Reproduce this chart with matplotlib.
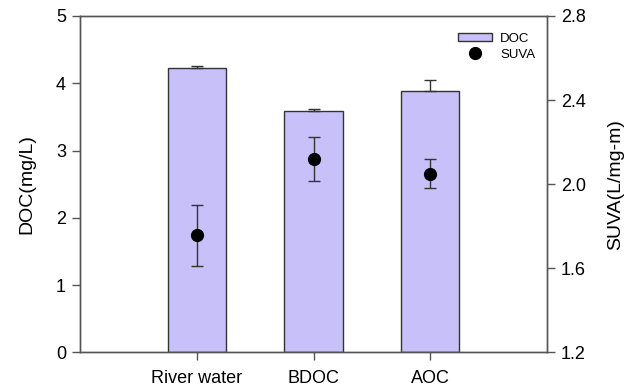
import matplotlib
matplotlib.use("Agg")
import matplotlib.pyplot as plt
from matplotlib.lines import Line2D

categories = ["River water", "BDOC", "AOC"]
doc_values = [4.23, 3.59, 3.885]
doc_errors = [0.03, 0.02, 0.165]
suva_values = [1.757, 2.12, 2.05]
suva_errors = [0.145, 0.103, 0.07]

plt.rcParams['font.family'] = ['Liberation Sans', 'DejaVu Sans']

fig = plt.figure(figsize=(6.31, 3.86), dpi=100)
ax = fig.add_axes([80/631, 1-352.3/386, (547-80)/631, (352.3-16)/386])
ax2 = ax.twinx()

pos = [1, 2, 3]
spine_c = '#555555'
ax.bar(pos, doc_values, width=0.5, color='#c8c0f8', edgecolor='#333333',
       linewidth=1.0, label='DOC', zorder=2)
ax.errorbar(pos, doc_values, yerr=[[0]*3, doc_errors], fmt='none', ecolor='#333333',
            elinewidth=1.0, capsize=4, capthick=1.0, zorder=3)
ax.set_xlim(0, 4)
ax.set_ylim(0, 5)
ax.set_xticks(pos)
ax.set_xticklabels(categories)
ax.set_yticks([0, 1, 2, 3, 4, 5])
ax.set_ylabel('DOC(mg/L)', fontsize=14, labelpad=15)

ax2.errorbar(pos, suva_values, yerr=suva_errors, fmt='o', color='black',
             markersize=8.5, ecolor='#333333', elinewidth=1.0, capsize=4,
             capthick=1.0, label='SUVA', zorder=4)
ax2.set_ylim(1.2, 2.8)
ax2.set_yticks([1.2, 1.6, 2.0, 2.4, 2.8])
ax2.set_yticklabels(['1.2', '1.6', '2.0', '2.4', '2.8'])
ax2.set_ylabel('SUVA(L/mg-m)', fontsize=14, labelpad=15)

for a in (ax, ax2):
    for s in a.spines.values():
        s.set_color(spine_c)
        s.set_linewidth(1.0)
    a.tick_params(direction='out', length=6, width=1.0, color=spine_c,
                  labelsize=13, pad=4)
ax.tick_params(axis='x', pad=7)

h1, l1 = ax.get_legend_handles_labels()
h2 = [Line2D([], [], marker='o', color='black', linestyle='none', markersize=8.5)]
ax2.legend(h1 + h2, l1 + ['SUVA'], loc='upper right', frameon=False,
           fontsize=9.5, bbox_to_anchor=(1.0, 0.985), handlelength=2.6,
           handleheight=0.6, labelspacing=0.3, handletextpad=0.6)

fig.savefig('out.png', dpi=100)
